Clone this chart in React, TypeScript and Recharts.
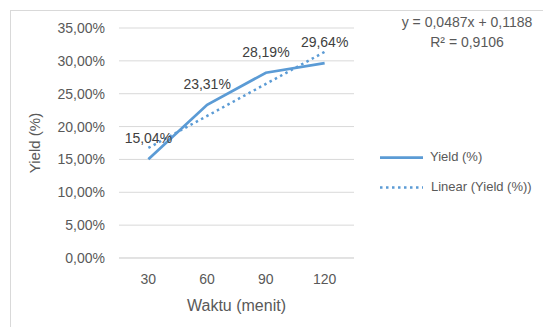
import React from 'react';
import { LineChart, Line, XAxis, YAxis, CartesianGrid, LabelList, Legend } from 'recharts';

const minutes = [30, 60, 90, 120];
const yieldValues = [0.1504, 0.2331, 0.2819, 0.2964];
const trendValues = [0.1675, 0.2162, 0.2649, 0.3136];
const yTicks = [0, 0.05, 0.1, 0.15, 0.2, 0.25, 0.3, 0.35];
const xTicks = [30, 60, 90, 120];
const seriesNames = ['Yield (%)', 'Linear (Yield (%))'];
const equationLines = ['y = 0,0487x + 0,1188', 'R² = 0,9106'];

const data = minutes.map((m, i) => ({ minute: m, yield: yieldValues[i], trend: trendValues[i] }));

const FONT = '"Liberation Sans", Arial, sans-serif';
const BLUE = '#5B9BD5';
const TEXT = '#595959';

const pct = (v: number) => (v * 100).toFixed(2).replace('.', ',') + '%';

const DataLabel = (props: any) => {
  const { x, y, value } = props;
  return (
    <text x={x} y={y - 16} textAnchor="middle" fontSize={14} fontFamily={FONT} fill="#404040">
      {pct(Number(value))}
    </text>
  );
};

const LegendOverlay = () => (
  <svg width={543} height={327} style={{ position: 'absolute', left: 0, top: 0, pointerEvents: 'none' }}>
    <rect x={10.5} y={10.5} width={540} height={320} fill="none" stroke="#D9D9D9" strokeWidth={1} />
    <text x={467} y={27} textAnchor="middle" fontSize={14} fontFamily={FONT} fill={TEXT}>{equationLines[0]}</text>
    <text x={467} y={47} textAnchor="middle" fontSize={14} fontFamily={FONT} fill={TEXT}>{equationLines[1]}</text>
    <line x1={380} y1={157.5} x2={423} y2={157.5} stroke={BLUE} strokeWidth={2.75} />
    <text x={430} y={161} fontSize={13} fontFamily={FONT} fill={TEXT}>{seriesNames[0]}</text>
    <line x1={380} y1={187.5} x2={423} y2={187.5} stroke={BLUE} strokeWidth={2.5} strokeDasharray="2.5 3.5" />
    <text x={431} y={191} fontSize={13} fontFamily={FONT} fill={TEXT}>{seriesNames[1]}</text>
  </svg>
);

export default function App() {
  return (
    <div style={{ position: 'absolute', left: 0, top: 0, width: 543, height: 327, background: '#fff', overflow: 'hidden' }}>
      <LineChart width={543} height={327} data={data} margin={{ top: 28, right: 189, bottom: 0, left: 0 }}>
        <CartesianGrid vertical={false} stroke="#D9D9D9" strokeWidth={1} />
        <XAxis
          dataKey="minute"
          type="number"
          domain={[15, 135]}
          ticks={xTicks}
          height={69}
          tickLine={false}
          axisLine={{ stroke: '#D9D9D9' }}
          tickSize={6}
          tickMargin={10}
          tick={{ fontSize: 14, fontFamily: FONT, fill: TEXT }}
          label={(p: any) => {
            const vb = p.viewBox || { x: 119, y: 258, width: 235 };
            return (
              <text x={vb.x + vb.width / 2} y={vb.y + 53} textAnchor="middle" fontSize={16} fontFamily={FONT} fill={TEXT}>
                Waktu (menit)
              </text>
            );
          }}
        />
        <YAxis
          type="number"
          domain={[0, 0.35]}
          ticks={yTicks}
          width={119}
          tickLine={false}
          axisLine={false}
          tickSize={6}
          tickMargin={8}
          tickFormatter={pct}
          tick={{ fontSize: 14, fontFamily: FONT, fill: TEXT }}
          label={(p: any) => {
            const vb = p.viewBox || { x: 0, y: 28, width: 119, height: 230 };
            const cy = vb.y + vb.height / 2;
            return (
              <text x={40} y={cy} transform={`rotate(-90, 40, ${cy})`} textAnchor="middle" fontSize={15} fontFamily={FONT} fill={TEXT}>
                Yield (%)
              </text>
            );
          }}
        />
        <Line
          dataKey="trend"
          name={seriesNames[1]}
          stroke={BLUE}
          strokeWidth={2.5}
          strokeDasharray="2.5 3.5"
          dot={false}
          activeDot={false}
          isAnimationActive={false}
        />
        <Line
          dataKey="yield"
          name={seriesNames[0]}
          stroke={BLUE}
          strokeWidth={2.75}
          dot={false}
          activeDot={false}
          isAnimationActive={false}
        >
          <LabelList dataKey="yield" content={DataLabel} />
        </Line>
        <Legend
          layout="horizontal"
          verticalAlign="middle"
          align="center"
          wrapperStyle={{ left: 0, top: 0, width: 543, height: 327, pointerEvents: 'none' }}
          content={() => <LegendOverlay />}
        />
      </LineChart>
    </div>
  );
}
